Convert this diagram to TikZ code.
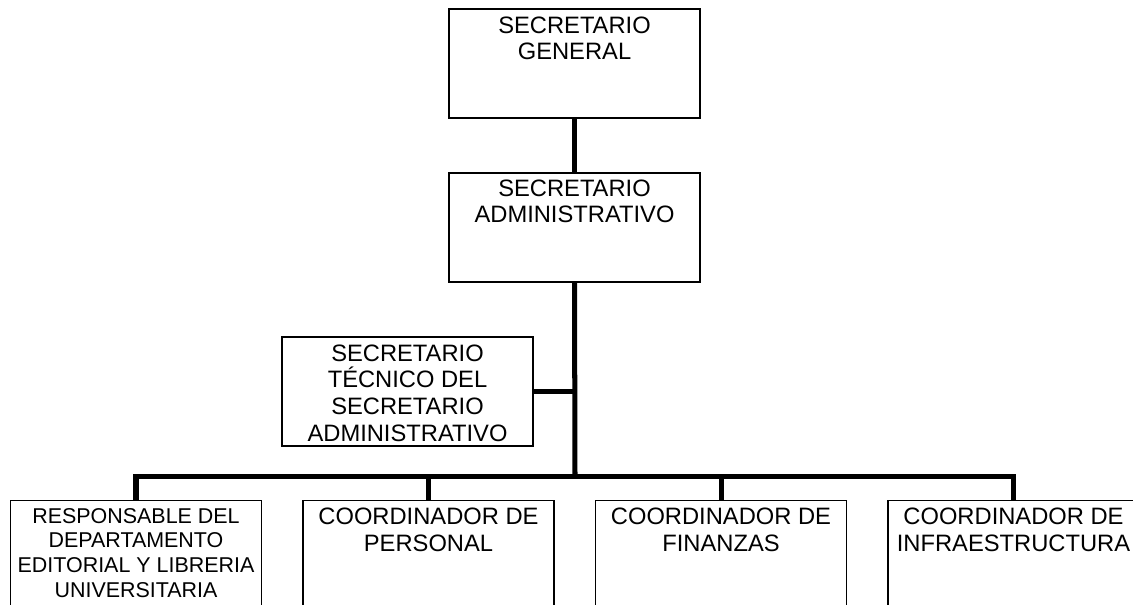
\documentclass[tikz,border=0pt]{standalone}
\usepackage{fontspec}
\setmainfont{Liberation Sans}
\usetikzlibrary{positioning}

\tikzset{
    cargo/.style={draw, line width=0.85pt, minimum width=5.02cm, minimum height=2.18cm, inner sep=0pt},
    rotulo/.style={inner sep=0pt, align=center, font=\fontsize{13.5}{15.2}\selectfont},
    rotulochico/.style={rotulo, font=\fontsize{12.2}{14.1}\selectfont},
    enlace/.style={line width=2.85pt}
}

\begin{document}
\begin{tikzpicture}
    \useasboundingbox (0,0) rectangle (22.66,12.1);
    % cajas
    \node[cargo] (gen) at (11.49,10.83) {};
    \node[cargo] (adm) at (11.49,7.55) {};
    \node[cargo] (tec) at (8.15,4.27) {};
    \node[cargo] (resp) at (2.72,1.0) {};
    \node[cargo] (pers) at (8.57,1.0) {};
    \node[cargo] (fin) at (14.42,1.0) {};
    \node[cargo] (infra) at (20.27,1.0) {};
    % textos
    \node[rotulo, below=0.16cm of gen.north] (gen-t) {SECRETARIO\\GENERAL};
    \node[rotulo, below=0.14cm of adm.north] (adm-t) {SECRETARIO\\ADMINISTRATIVO};
    \node[rotulo, below=0.16cm of tec.north] (tec-t) {SECRETARIO\\TÉCNICO DEL\\SECRETARIO\\ADMINISTRATIVO};
    \node[rotulochico, below=0.16cm of resp.north] (resp-t) {RESPONSABLE DEL\\DEPARTAMENTO\\EDITORIAL Y LIBRERIA\\UNIVERSITARIA};
    \node[rotulo, below=0.16cm of pers.north] (pers-t) {COORDINADOR DE\\PERSONAL};
    \node[rotulo, below=0.16cm of fin.north] (fin-t) {COORDINADOR DE\\FINANZAS};
    \node[rotulo, below=0.16cm of infra.north] (infra-t) {COORDINADOR DE\\INFRAESTRUCTURA};
    % enlaces
    \coordinate (barra) at (11.5,2.57);
    \draw[enlace] (gen) -- (adm);
    \draw[enlace] (adm.south) -- (barra);
    \draw[enlace] (tec.east) -- (tec.east -| barra);
    \draw[enlace] (resp.north) |- (barra) -| (infra.north);
    \foreach \n in {pers, fin}
        \draw[enlace] (\n.north) -- (\n.north |- barra);
\end{tikzpicture}
\end{document}
